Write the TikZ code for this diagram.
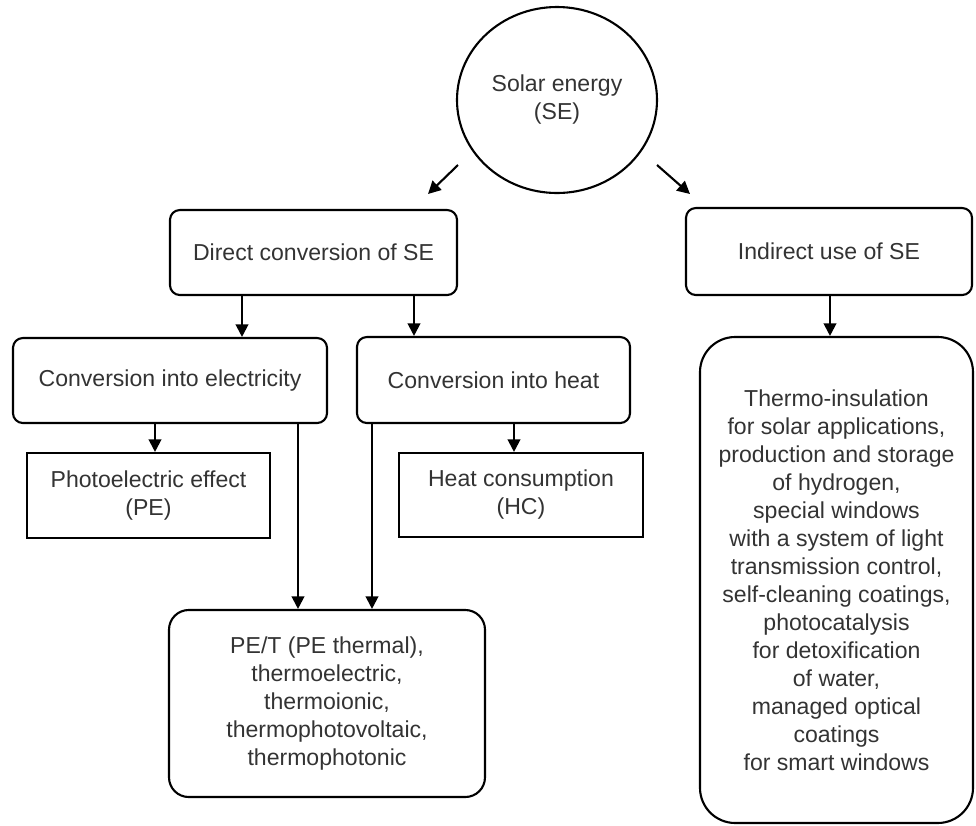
\documentclass[tikz,border=0pt]{standalone}
\usepackage{fontspec}
\setmainfont{Liberation Sans}
\usetikzlibrary{positioning, arrows.meta, shapes.geometric}
\newcommand{\unitpx}{0.025cm}

\begin{document}
\begin{tikzpicture}
              [x=0.025cm, y=-0.025cm,
               box/.style={draw, rectangle, line width=1.5pt, rounded corners=7pt, align=center,
                           inner sep=0pt, text=black!80, font=\fontsize{16.4}{19.9}\selectfont},
               plainbox/.style={box, sharp corners},
               arrow/.style={-{Triangle[length=9pt,width=9pt]}, line width=1.5pt}]
              \useasboundingbox (0,0) rectangle (976,825);

              % nodes %
              \node[box, ellipse, minimum width=200*\unitpx, minimum height=186*\unitpx] (se) at (557,100) {Solar energy\\(SE)};
              \node[box, minimum width=287*\unitpx, minimum height=85*\unitpx] (direct) at (313.5,252.5) {Direct conversion of SE};
              \node[box, minimum width=286*\unitpx, minimum height=87*\unitpx] (indirect) at (829,251.5) {Indirect use of SE};
              \node[box, minimum width=314*\unitpx, minimum height=85*\unitpx] (elec) at (170,380.5) {Conversion into electricity};
              \node[box, minimum width=273*\unitpx, minimum height=86*\unitpx] (heat) at (493.5,380) {Conversion into heat};
              \node[plainbox, minimum width=243*\unitpx, minimum height=85*\unitpx] (pe) at (148.5,495.5) {Photoelectric effect\\(PE)};
              \node[plainbox, minimum width=244*\unitpx, minimum height=84*\unitpx] (hc) at (521,495) {Heat consumption\\(HC)};
              \node[box, rounded corners=14pt, minimum width=316*\unitpx, minimum height=187*\unitpx] (pet) at (327,703.5)
                {PE/T (PE thermal),\\thermoelectric,\\thermoionic,\\thermophotovoltaic,\\thermophotonic};
              \node[box, rounded corners=25pt, minimum width=273*\unitpx, minimum height=486*\unitpx] (uses) at (836.5,580)
                {Thermo-insulation\\for solar applications,\\production and storage\\of hydrogen,\\special windows\\with a system of light\\transmission control,\\self-cleaning coatings,\\photocatalysis\\for detoxification\\of water,\\managed optical\\coatings\\for smart windows};

              % arrow positions %
              \coordinate (sel) at (458,165);
              \coordinate (dirtip) at (428,194);
              \coordinate (ser) at (657,165);
              \coordinate (indtip) at (690,194);
              \coordinate (xelec) at (242,0);
              \coordinate (xheat) at (414,0);
              \coordinate (xuses) at (830,0);
              \coordinate (xpe) at (155,0);
              \coordinate (xpetl) at (298,0);
              \coordinate (xpetr) at (372,0);
              \coordinate (xhc) at (514,0);

              % edges %
              \draw[arrow] (sel) -- (dirtip);
              \draw[arrow] (ser) -- (indtip);
              \draw[arrow] (direct.south -| xelec) -- (elec.north -| xelec);
              \draw[arrow] (direct.south -| xheat) -- (heat.north -| xheat);
              \draw[arrow] (indirect.south -| xuses) -- (uses.north -| xuses);
              \draw[arrow] (elec.south -| xpe) -- (pe.north -| xpe);
              \draw[arrow] (elec.south -| xpetl) -- (pet.north -| xpetl);
              \draw[arrow] (heat.south -| xpetr) -- (pet.north -| xpetr);
              \draw[arrow] (heat.south -| xhc) -- (hc.north -| xhc);
            \end{tikzpicture}
\end{document}
